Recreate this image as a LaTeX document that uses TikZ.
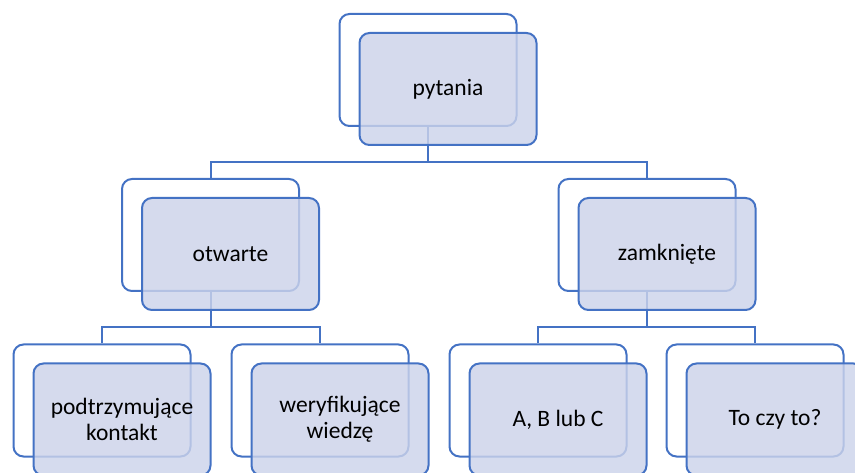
\documentclass[tikz,border=0pt]{standalone}
\usepackage{fontspec}
\setmainfont{Carlito}
\definecolor{edge}{RGB}{68,114,196}
\definecolor{frontfill}{RGB}{204,211,234}
\tikzset{
  backbox/.style={draw=edge, line width=2pt, rounded corners=10pt, fill=white,
    minimum width=177pt, minimum height=112pt, inner sep=0pt},
  frontbox/.style={draw=edge, line width=2pt, rounded corners=10pt, fill=frontfill,
    fill opacity=0.82, text opacity=1, minimum width=177pt, minimum height=112pt,
    inner sep=0pt, align=center, font=\fontsize{23.5}{26}\selectfont, text=black},
  link/.style={draw=edge, line width=2pt}
}
\begin{document}
\begin{tikzpicture}[x=1pt,y=-1pt]
\useasboundingbox (0,0) rectangle (855,473);
\clip (0,0) rectangle (855,473);
% back boxes
\node[backbox] (b1) at (428,70) {};
\node[backbox] (b2) at (210.5,235) {};
\node[backbox] (b3) at (647,235) {};
\node[backbox] (b4) at (102,400.5) {};
\node[backbox] (b5) at (320,400.5) {};
\node[backbox] (b6) at (538,400.5) {};
\node[backbox] (b7) at (755,400.5) {};
% connectors
\coordinate (h1) at (428,162);
\coordinate (h2) at (210.5,327);
\coordinate (h3) at (647,327);
\draw[link] (b1.south) -- (h1);
\draw[link] (b2.north) |- (h1) -| (b3.north);
\draw[link] (b2.south) -- (h2);
\draw[link] (b4.north) |- (h2) -| (b5.north);
\draw[link] (b3.south) -- (h3);
\draw[link] (b6.north) |- (h3) -| (b7.north);
% front boxes
\node[frontbox] (f1) at (448,89) {pytania};
\node[frontbox] (f2) at (230.5,254) {otwarte};
\node[frontbox] (f3) at (667,254) {zamknięte};
\node[frontbox] (f4) at (122,419.5) {podtrzymujące\\kontakt};
\node[frontbox] (f5) at (340,419.5) {weryfikujące\\wiedzę};
\node[frontbox] (f6) at (558,419.5) {A, B lub C};
\node[frontbox] (f7) at (775,419.5) {To czy to?};
\end{tikzpicture}
\end{document}
